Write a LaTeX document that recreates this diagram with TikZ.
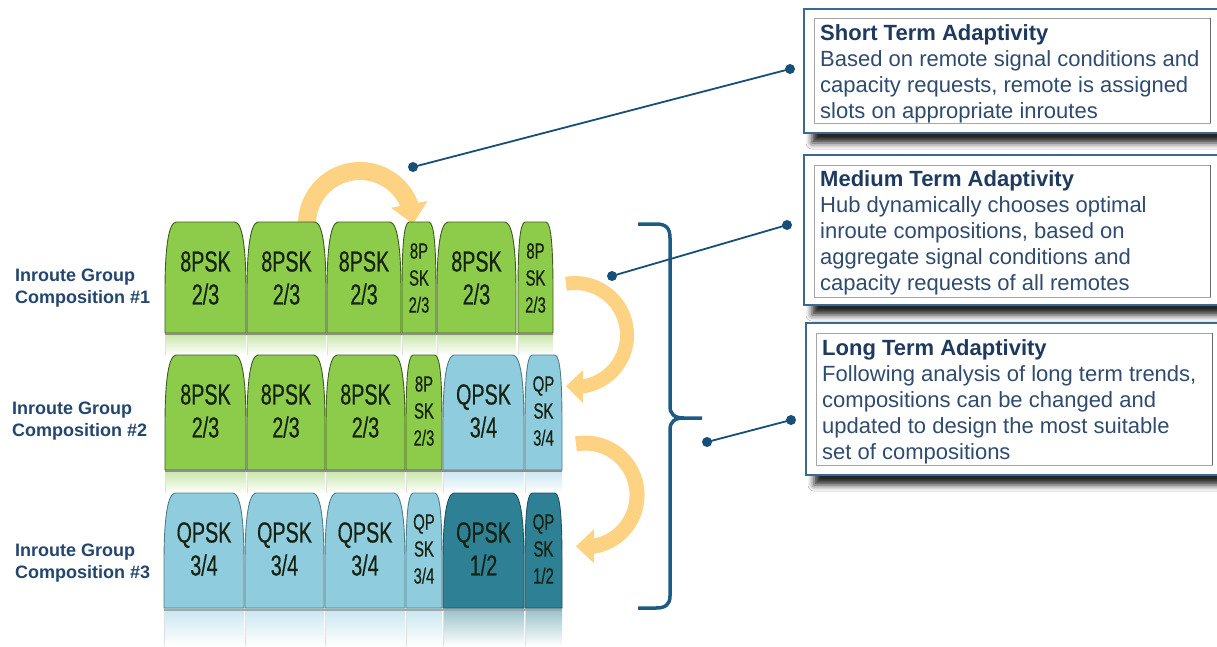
\documentclass[tikz,border=0pt]{standalone}
\usepackage{fontspec}
\setmainfont{Liberation Sans}
\newfontfamily\slotfont[FakeStretch=0.68,FakeBold=0.4]{Liberation Sans}
\usetikzlibrary{arrows.meta,bending,shadows.blur}
\definecolor{gfill}{RGB}{141,203,74}
\definecolor{gline}{RGB}{62,92,32}
\definecolor{bfill}{RGB}{143,205,222}
\definecolor{bline}{RGB}{80,125,138}
\definecolor{tfill}{RGB}{46,128,148}
\definecolor{tline}{RGB}{30,82,98}
\definecolor{yarr}{RGB}{253,210,130}
\definecolor{bracec}{RGB}{29,91,134}
\definecolor{callc}{RGB}{23,79,120}
\definecolor{boxc}{RGB}{58,106,148}
\definecolor{titlec}{RGB}{31,58,95}
\definecolor{bodyc}{RGB}{47,75,110}
\definecolor{labc}{RGB}{36,70,110}
\definecolor{stext}{RGB}{22,34,18}
\tikzset{
  greenslot/.style={draw=gline, fill=gfill, line width=0.9},
  blueslot/.style={draw=bline, fill=bfill, line width=0.9},
  tealslot/.style={draw=tline, fill=tfill, line width=0.9},
  widetext/.style={font=\slotfont\fontsize{29}{33}\selectfont, text=stext, align=center, inner sep=0},
  narrowtext/.style={font=\slotfont\fontsize{22}{27}\selectfont, text=stext, align=center, inner sep=0},
  yarrow/.style={draw=yarr, line cap=butt},
  bracestyle/.style={draw=bracec, line width=3.5, line join=round},
  callout/.style={draw=callc, line width=1.8},
  dotstyle/.style={fill=callc},
  lab/.style={font=\bfseries\fontsize{18}{22}\selectfont, text=labc, align=left, inner sep=0, anchor=north west},
  boxtext/.style={font=\fontsize{22}{26}\selectfont, text=bodyc, align=left, inner sep=0, anchor=north west},
  outerbox/.style={draw=boxc, line width=2, fill=white},
  innerbox/.style={draw=black!35, line width=0.8},
  refl/.style={draw=black!12, line width=0.6},
  boxshadow/.style={blur shadow={shadow xshift=8pt, shadow yshift=-10pt, shadow blur radius=6pt, shadow opacity=85}}
}
% #1 x1, #2 x2, #3 top, #4 bottom, #5 style, #6 indent, #7 name, #8 text style, #9 text
\newcommand\myslot[9]{%
  \draw[#5] (#1,#4) -- (#1,#3+70) .. controls (#1,#3+25) and (#1+#6*0.45,#3+1) .. (#1+#6+3,#3)
     -- (#2-#6-3,#3) .. controls (#2-#6*0.45,#3+1) and (#2,#3+25) .. (#2,#3+70) -- (#2,#4) -- cycle;
  \node[#8] (#7) at ({(#1+#2)/2},#3+56) {#9};
}
% #1 x1, #2 x2, #3 top, #4 bottom, #5 colour
\newcommand\myrefl[5]{%
  \shade[top color=#5!50!white, bottom color=white] (#1,#3) rectangle (#2,#4);
  \draw[refl] (#1,#3) -- (#1,#4);
}
\begin{document}
\begin{tikzpicture}[x=1pt,y=-1pt]
\useasboundingbox (0,0) rectangle (1217,646);
\clip (0,0) rectangle (1217,646);
\fill[white] (0,0) rectangle (1217,646);

% reflections
\myrefl{165}{246}{333}{355}{gfill}
\myrefl{247}{326}{333}{355}{gfill}
\myrefl{327}{401}{333}{355}{gfill}
\myrefl{402}{436}{333}{355}{gfill}
\myrefl{437}{516}{333}{355}{gfill}
\myrefl{518}{553}{333}{355}{gfill}
\myrefl{165}{246}{470}{493}{gfill}
\myrefl{247}{325}{470}{493}{gfill}
\myrefl{326}{405}{470}{493}{gfill}
\myrefl{406}{442}{470}{493}{gfill}
\myrefl{443}{524}{470}{493}{bfill}
\myrefl{525}{562}{470}{493}{bfill}
\myrefl{164}{244}{608}{646}{bfill}
\myrefl{245}{324}{608}{646}{bfill}
\myrefl{325}{405}{608}{646}{bfill}
\myrefl{406}{442}{608}{646}{bfill}
\myrefl{443}{524}{608}{646}{tfill}
\myrefl{525}{562}{608}{646}{tfill}

% yellow arrows
\draw[yarrow, line width=18, -{Triangle[length=20pt,width=36pt]}] (307,245) -- (307,224) arc[start angle=180, end angle=360, radius=53];
\draw[yarrow, line width=14, -{Triangle[length=17pt,width=32pt]}] (566,283.8) arc[start angle=-100, end angle=100, radius=52];
\draw[yarrow, line width=15, -{Triangle[length=18pt,width=33pt]}] (576,443.8) arc[start angle=-100, end angle=100, radius=52];

% row 1
\myslot{165}{246}{222}{333}{greenslot}{8}{r1a}{widetext}{8PSK\\2/3}
\myslot{247}{326}{222}{333}{greenslot}{8}{r1b}{widetext}{8PSK\\2/3}
\myslot{327}{401}{222}{333}{greenslot}{8}{r1c}{widetext}{8PSK\\2/3}
\myslot{402}{436}{222}{333}{greenslot}{4}{r1d}{narrowtext}{8P\\SK\\2/3}
\myslot{437}{516}{222}{333}{greenslot}{8}{r1e}{widetext}{8PSK\\2/3}
\myslot{518}{553}{222}{333}{greenslot}{4}{r1f}{narrowtext}{8P\\SK\\2/3}
\draw[black!45, line width=1.6] (165,334) -- (553,334);

% row 2
\myslot{165}{246}{355}{470}{greenslot}{8}{r2a}{widetext}{8PSK\\2/3}
\myslot{247}{325}{355}{470}{greenslot}{8}{r2b}{widetext}{8PSK\\2/3}
\myslot{326}{405}{355}{470}{greenslot}{8}{r2c}{widetext}{8PSK\\2/3}
\myslot{406}{442}{355}{470}{greenslot}{4}{r2d}{narrowtext}{8P\\SK\\2/3}
\myslot{443}{524}{355}{470}{blueslot}{8}{r2e}{widetext}{QPSK\\3/4}
\myslot{525}{562}{355}{470}{blueslot}{4}{r2f}{narrowtext}{QP\\SK\\3/4}
\draw[black!45, line width=1.6] (165,471) -- (562,471);

% row 3
\myslot{164}{244}{493}{608}{blueslot}{8}{r3a}{widetext}{QPSK\\3/4}
\myslot{245}{324}{493}{608}{blueslot}{8}{r3b}{widetext}{QPSK\\3/4}
\myslot{325}{405}{493}{608}{blueslot}{8}{r3c}{widetext}{QPSK\\3/4}
\myslot{406}{442}{493}{608}{blueslot}{4}{r3d}{narrowtext}{QP\\SK\\3/4}
\myslot{443}{524}{493}{608}{tealslot}{8}{r3e}{widetext}{QPSK\\1/2}
\myslot{525}{562}{493}{608}{tealslot}{4}{r3f}{narrowtext}{QP\\SK\\1/2}
\draw[black!35, line width=2] (164,610) -- (562,610);

% left labels
\node[lab] (lab1) at (15,268.5) {Inroute Group\\Composition \#1};
\node[lab] (lab2) at (12,401.5) {Inroute Group\\Composition \#2};
\node[lab] (lab3) at (15,543.5) {Inroute Group\\Composition \#3};

% brace
\draw[bracestyle] (638,224) -- (656,224) .. controls (666,224) and (670,228) .. (670,238) -- (670,406)
   .. controls (670,414) and (674,418) .. (684,418) -- (702,418);
\draw[bracestyle] (684,418) .. controls (674,418) and (670,422) .. (670,430) -- (670,596)
   .. controls (670,604) and (666,608) .. (656,608) -- (638,608);

% boxes
\fill[white, boxshadow] (804,9) rectangle (1219,133);
\draw[outerbox] (804,9) rectangle (1219,133);
\draw[innerbox] (814,18) rectangle (1210,123);
\draw[black!60, line width=1] (1210,18) -- (1210,123);
\fill[white, boxshadow] (804,155) rectangle (1219,305);
\draw[outerbox] (804,155) rectangle (1219,305);
\draw[innerbox] (814,165) rectangle (1210,297);
\draw[black!60, line width=1] (1210,165) -- (1210,297);
\fill[white, boxshadow] (806,323) rectangle (1219,475);
\draw[outerbox] (806,323) rectangle (1219,475);
\draw[innerbox] (816,333) rectangle (1212,465);
\draw[black!60, line width=1] (1212,333) -- (1212,465);

\node[boxtext] (t1) at (820,24) {{\bfseries\color{titlec}Short Term Adaptivity}\\Based on remote signal conditions and\\capacity requests, remote is assigned\\slots on appropriate inroutes};
\node[boxtext] (t2) at (820,170) {{\bfseries\color{titlec}Medium Term Adaptivity}\\Hub dynamically chooses optimal\\inroute compositions, based on\\aggregate signal conditions and\\capacity requests of all remotes};
\node[boxtext] (t3) at (822,339) {{\bfseries\color{titlec}Long Term Adaptivity}\\Following analysis of long term trends,\\compositions can be changed and\\updated to design the most suitable\\set of compositions};

% callouts
\coordinate (d1a) at (413,167);
\coordinate (d1b) at (790,69);
\coordinate (d2a) at (612,276);
\coordinate (d2b) at (787,225);
\coordinate (d3a) at (707,442);
\coordinate (d3b) at (791,420);
\draw[callout] (d1a) -- (d1b);
\draw[callout] (d2a) -- (d2b);
\draw[callout] (d3a) -- (d3b);
\foreach \d in {d1a,d1b,d2a,d2b,d3a,d3b} \fill[dotstyle] (\d) circle[radius=5];
\end{tikzpicture}
\end{document}
